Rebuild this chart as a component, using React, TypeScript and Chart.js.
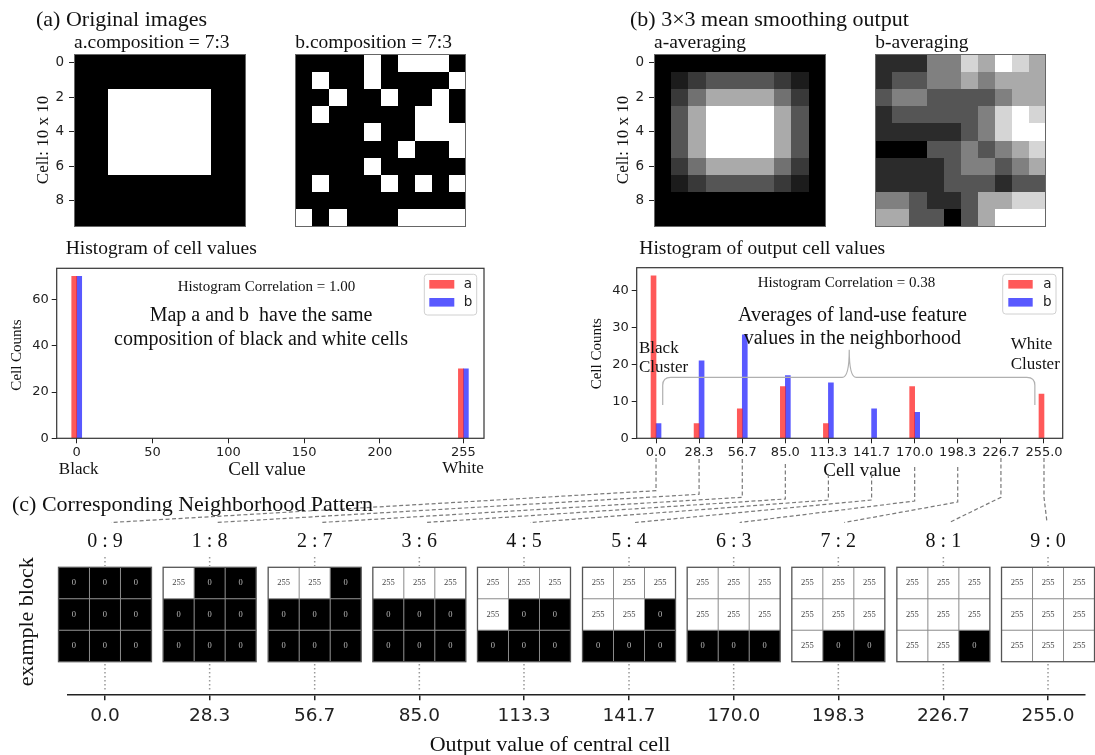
import React, { useEffect, useRef } from 'react';
import { Chart, registerables } from 'chart.js';

Chart.register(...registerables);

const W = 1095;
const H = 755;
const SERIF = '"Liberation Serif", "Times New Roman", serif';
const SANS = '"DejaVu Sans", "Noto Sans", sans-serif';
const RED = 'rgba(255,0,0,0.65)';
const BLUE = 'rgba(0,0,255,0.65)';

// ---------------- data ----------------
// (a) original 10x10 maps, 1 = white (255), 0 = black (0)
const IMG_A = [
  '0000000000',
  '0000000000',
  '0011111100',
  '0011111100',
  '0011111100',
  '0011111100',
  '0011111100',
  '0000000000',
  '0000000000',
  '0000000000',
];
const IMG_B = [
  '0000101110',
  '0100100001',
  '0010010010',
  '0100000110',
  '0000100111',
  '0000001001',
  '0000100000',
  '0100010101',
  '0000000000',
  '1010001111',
];
// (b) 3x3 mean smoothing output, in ninths of 255 (number of white cells in the window)
const AVG_A = [
  '0000000000',
  '0123333210',
  '0246666420',
  '0369999630',
  '0369999630',
  '0369999630',
  '0246666420',
  '0123333210',
  '0000000000',
  '0000000000',
];
const AVG_B = [
  '1113354654',
  '1223343444',
  '2332222344',
  '1222223565',
  '1111123566',
  '0002232345',
  '1111233234',
  '1111222122',
  '3321124455',
  '4422024666',
];
const IMG_TICKS = [0, 2, 4, 6, 8];

// histogram of original cell values
const HIST1_BINS = [0, 255];
const HIST1_A = [70, 30];
const HIST1_B = [70, 30];
const HIST1_XTICKS = [0, 50, 100, 150, 200, 255];
const HIST1_YTICKS = [0, 20, 40, 60];

// histogram of output cell values
const BINS = [0, 28.3, 56.7, 85.0, 113.3, 141.7, 170.0, 198.3, 226.7, 255.0];
const HIST2_A = [44, 4, 8, 14, 4, 0, 14, 0, 0, 12];
const HIST2_B = [4, 21, 28, 17, 15, 8, 7, 0, 0, 0];
const HIST2_YTICKS = [0, 10, 20, 30, 40];

// (c) neighborhood patterns
const RATIOS = ['0 : 9', '1 : 8', '2 : 7', '3 : 6', '4 : 5', '5 : 4', '6 : 3', '7 : 2', '8 : 1', '9 : 0'];
const PATTERNS = [
  '000000000',
  '100000000',
  '110000000',
  '111000000',
  '111100000',
  '111110000',
  '111111000',
  '111111100',
  '111111110',
  '111111111',
];

// ---------------- helpers ----------------
type TextItem = {
  t: string;
  x: number;
  y: number;
  size: number;
  font?: string;
  align?: CanvasTextAlign;
  rot?: number;
  color?: string;
};

function drawTexts(ctx: CanvasRenderingContext2D, items: TextItem[]) {
  for (const it of items) {
    ctx.save();
    ctx.font = `${it.size}px ${it.font || SERIF}`;
    ctx.fillStyle = it.color || '#111';
    ctx.textAlign = it.align || 'left';
    ctx.textBaseline = 'middle';
    ctx.translate(it.x, it.y);
    if (it.rot) ctx.rotate(it.rot);
    ctx.fillText(it.t, 0, 0);
    ctx.restore();
  }
}

const textPlugin = (items: TextItem[]) => ({
  id: 'texts',
  afterDraw(chart: any) {
    drawTexts(chart.ctx, items);
  },
});

function gridPoints(rows: string[]) {
  return rows.flatMap((row, r) => row.split('').map((ch, c) => ({ x: c, y: r, v: Number(ch) })));
}

const cellPlugin = {
  id: 'cells',
  beforeDatasetsDraw(chart: any) {
    const { ctx, chartArea, scales } = chart;
    const ds = chart.data.datasets[0];
    const pts = ds.data as { x: number; y: number; v: number }[];
    const vmax = Math.max(...pts.map((p) => p.v));
    const xs = scales.x;
    const ys = scales.y;
    ctx.save();
    for (const p of pts) {
      const x0 = Math.round(xs.getPixelForValue(p.x - 0.5));
      const x1 = Math.round(xs.getPixelForValue(p.x + 0.5));
      const ya = Math.round(ys.getPixelForValue(p.y - 0.5));
      const yb = Math.round(ys.getPixelForValue(p.y + 0.5));
      const g = Math.round((p.v / vmax) * 255);
      ctx.fillStyle = `rgb(${g},${g},${g})`;
      ctx.fillRect(x0, Math.min(ya, yb), x1 - x0, Math.abs(yb - ya));
    }
    ctx.strokeStyle = '#666';
    ctx.lineWidth = 1;
    ctx.strokeRect(
      Math.round(chartArea.left) + 0.5,
      Math.round(chartArea.top) + 0.5,
      Math.round(chartArea.right) - Math.round(chartArea.left) - 1,
      Math.round(chartArea.bottom) - Math.round(chartArea.top) - 1
    );
    ctx.restore();
  },
};

function heatChart(
  canvas: HTMLCanvasElement,
  rows: string[],
  area: [number, number, number, number],
  showY: boolean,
  texts: TextItem[]
) {
  const yW = 30;
  const [x0, y0, x1, y1] = area;
  const yScale: any = {
    type: 'linear',
    min: -0.5,
    max: 9.5,
    reverse: true,
    display: showY,
    afterBuildTicks: (s: any) => {
      s.ticks = IMG_TICKS.map((v) => ({ value: v }));
    },
    ticks: { font: { family: SANS, size: 13.5 }, color: '#222', padding: 5 },
    grid: { drawOnChartArea: false, drawTicks: true, tickLength: 5, color: '#222' },
    border: { display: false },
  };
  if (showY) {
    yScale.afterFit = (s: any) => {
      s.width = yW;
    };
  }
  return new Chart(canvas, {
    type: 'scatter',
    data: { datasets: [{ data: gridPoints(rows), pointRadius: 0, pointHoverRadius: 0 } as any] },
    options: {
      animation: false,
      responsive: false,
      events: [],
      layout: { padding: { left: showY ? x0 - yW : x0, top: y0, right: W - x1, bottom: H - y1 } },
      plugins: { legend: { display: false }, tooltip: { enabled: false } },
      scales: {
        x: { type: 'linear', min: -0.5, max: 9.5, display: false },
        y: yScale,
      },
    } as any,
    plugins: [cellPlugin, textPlugin(texts)],
  });
}

type LegendGeo = { box: [number, number, number, number]; px0: number; px1: number; lx: number; ys: [number, number] };

function histOverlay(texts: TextItem[], legend: LegendGeo, brace: boolean) {
  return {
    id: 'histOverlay',
    afterDraw(chart: any) {
      const { ctx, chartArea, scales } = chart;
      ctx.save();
      // frame
      ctx.strokeStyle = '#333';
      ctx.lineWidth = 1.2;
      ctx.strokeRect(chartArea.left, chartArea.top, chartArea.right - chartArea.left, chartArea.bottom - chartArea.top);
      // brace
      if (brace) {
        const xs = scales.x;
        const ys = scales.y;
        const xL = xs.getPixelForValue(4.4);
        const xM = xs.getPixelForValue(127);
        const xR = xs.getPixelForValue(249);
        const yEnd = ys.getPixelForValue(9);
        const yLine = ys.getPixelForValue(16.5);
        const yPeak = ys.getPixelForValue(24);
        ctx.strokeStyle = '#b0b0b0';
        ctx.lineWidth = 1.2;
        ctx.beginPath();
        ctx.moveTo(xL, yEnd);
        ctx.lineTo(xL, yLine + 8);
        ctx.quadraticCurveTo(xL, yLine, xL + 8, yLine);
        ctx.lineTo(xM - 7, yLine);
        ctx.quadraticCurveTo(xM, yLine, xM, yPeak);
        ctx.quadraticCurveTo(xM, yLine, xM + 7, yLine);
        ctx.lineTo(xR - 8, yLine);
        ctx.quadraticCurveTo(xR, yLine, xR, yLine + 8);
        ctx.lineTo(xR, yEnd);
        ctx.stroke();
      }
      // legend
      const [bx0, by0, bx1, by1] = legend.box;
      ctx.fillStyle = 'rgba(255,255,255,0.85)';
      ctx.strokeStyle = '#d0d0d0';
      ctx.lineWidth = 1;
      ctx.beginPath();
      (ctx as any).roundRect ? (ctx as any).roundRect(bx0, by0, bx1 - bx0, by1 - by0, 3) : ctx.rect(bx0, by0, bx1 - bx0, by1 - by0);
      ctx.fill();
      ctx.stroke();
      const dss = chart.data.datasets;
      dss.forEach((ds: any, i: number) => {
        const y = legend.ys[i];
        ctx.fillStyle = ds.backgroundColor;
        ctx.fillRect(legend.px0, y - 4.3, legend.px1 - legend.px0, 8.6);
        ctx.fillStyle = '#222';
        ctx.font = `13.5px ${SANS}`;
        ctx.textAlign = 'center';
        ctx.textBaseline = 'middle';
        ctx.fillText(ds.label, legend.lx, y);
      });
      ctx.restore();
      drawTexts(ctx, texts);
    },
  };
}

function histChart(
  canvas: HTMLCanvasElement,
  bins: number[],
  aVals: number[],
  bVals: number[],
  xRange: [number, number],
  yMax: number,
  xTicks: number[],
  yTicks: number[],
  fmt: (v: number) => string,
  area: [number, number, number, number],
  overlay: any
) {
  const yW = 40;
  const xH = 20;
  const [x0, y0, x1, y1] = area;
  return new Chart(canvas, {
    type: 'bar',
    data: {
      datasets: [
        { label: 'a', data: bins.map((b, i) => ({ x: b, y: aVals[i] })), backgroundColor: RED, borderWidth: 0, barThickness: 5 },
        { label: 'b', data: bins.map((b, i) => ({ x: b, y: bVals[i] })), backgroundColor: BLUE, borderWidth: 0, barThickness: 5 },
      ] as any,
    },
    options: {
      animation: false,
      responsive: false,
      events: [],
      layout: { padding: { left: x0 - yW, top: y0, right: W - x1, bottom: H - y1 - xH } },
      plugins: { legend: { display: false }, tooltip: { enabled: false } },
      scales: {
        x: {
          type: 'linear',
          min: xRange[0],
          max: xRange[1],
          offset: false,
          afterFit: (s: any) => {
            s.height = xH;
          },
          afterBuildTicks: (s: any) => {
            s.ticks = xTicks.map((v) => ({ value: v }));
          },
          ticks: {
            callback: (v: any) => fmt(Number(v)),
            font: { family: SANS, size: 13 },
            color: '#222',
            padding: 2,
            maxRotation: 0,
            autoSkip: false,
          },
          grid: { offset: false, drawOnChartArea: false, drawTicks: true, tickLength: 5, color: '#222' },
          border: { display: false },
        },
        y: {
          type: 'linear',
          min: 0,
          max: yMax,
          afterFit: (s: any) => {
            s.width = yW;
          },
          afterBuildTicks: (s: any) => {
            s.ticks = yTicks.map((v) => ({ value: v }));
          },
          ticks: { font: { family: SANS, size: 13 }, color: '#222', padding: 3 },
          grid: { drawOnChartArea: false, drawTicks: true, tickLength: 5, color: '#222' },
          border: { display: false },
        },
      },
    } as any,
    plugins: [overlay],
  });
}

function blocksPlugin(getHist: () => any) {
  return {
    id: 'blocks',
    afterDraw(chart: any) {
      const { ctx } = chart;
      const meta = chart.getDatasetMeta(0);
      const pts = chart.data.datasets[0].data as { x: number; pattern: string; label: string }[];
      const bw = 93;
      const top = 567.3;
      const bh = 94.4;
      const cw = bw / 3;
      const ch = bh / 3;
      ctx.save();
      pts.forEach((p, k) => {
        const cx = meta.data[k].x;
        const left = cx - bw / 2;
        // cells
        for (let i = 0; i < 9; i++) {
          const r = Math.floor(i / 3);
          const c = i % 3;
          const white = p.pattern[i] === '1';
          ctx.fillStyle = white ? '#ffffff' : '#000000';
          ctx.fillRect(left + c * cw, top + r * ch, cw, ch);
          ctx.fillStyle = white ? '#444' : '#bbb';
          ctx.font = `8.5px ${SERIF}`;
          ctx.textAlign = 'center';
          ctx.textBaseline = 'middle';
          ctx.fillText(white ? '255' : '0', left + c * cw + cw / 2, top + r * ch + ch / 2);
        }
        // inner grid
        ctx.strokeStyle = '#8a8a8a';
        ctx.lineWidth = 1;
        ctx.beginPath();
        for (let j = 1; j < 3; j++) {
          ctx.moveTo(left + j * cw, top);
          ctx.lineTo(left + j * cw, top + bh);
          ctx.moveTo(left, top + j * ch);
          ctx.lineTo(left + bw, top + j * ch);
        }
        ctx.stroke();
        ctx.strokeStyle = '#555';
        ctx.lineWidth = 1.3;
        ctx.strokeRect(left, top, bw, bh);
        // dotted guides
        ctx.save();
        ctx.setLineDash([1.5, 2.5]);
        ctx.strokeStyle = '#999';
        ctx.lineWidth = 1.5;
        ctx.beginPath();
        ctx.moveTo(cx, 557);
        ctx.lineTo(cx, 566);
        ctx.moveTo(cx, 664);
        ctx.lineTo(cx, 692);
        ctx.stroke();
        ctx.restore();
        // ratio label
        drawTexts(ctx, [{ t: p.label, x: cx, y: 541.7, size: 20, align: 'center' }]);
      });
      // connectors from histogram ticks to patterns
      const hist = getHist();
      if (hist) {
        const hx = hist.scales.x;
        const starts = [458, 459, 459, 464, 474, 474, 467, 467, 458, 458];
        const ends = [490.7, 494.3, 497.3, 499, 500, 500, 501, 502, 497.3, 497.3];
        ctx.setLineDash([4, 2.5]);
        ctx.strokeStyle = '#7a7a7a';
        ctx.lineWidth = 1.2;
        pts.forEach((p, k) => {
          const x0 = hx.getPixelForValue(p.x);
          const tx = meta.data[k].x + (k === pts.length - 1 ? -1 : 6);
          ctx.beginPath();
          ctx.moveTo(x0, starts[k]);
          ctx.lineTo(x0, ends[k]);
          ctx.lineTo(tx, 522.5);
          ctx.stroke();
        });
      }
      ctx.restore();
    },
  };
}

// ---------------- component ----------------
export default function App() {
  const refs = useRef<(HTMLCanvasElement | null)[]>([]);

  useEffect(() => {
    const c = refs.current as HTMLCanvasElement[];
    const charts: Chart[] = [];

    charts.push(
      heatChart(c[0], IMG_A, [74, 54.3, 245.7, 226.7], true, [
        { t: '(a) Original images', x: 36, y: 20, size: 22 },
        { t: 'a.composition = 7:3', x: 74, y: 43.3, size: 19.5 },
        { t: 'Cell: 10 x 10', x: 43.3, y: 140, size: 17, align: 'center', rot: -Math.PI / 2 },
      ])
    );
    charts.push(
      heatChart(c[1], IMG_B, [295.3, 54.3, 466, 226.7], false, [
        { t: 'b.composition = 7:3', x: 295.3, y: 43.3, size: 19.5 },
      ])
    );
    charts.push(
      heatChart(c[2], AVG_A, [654, 54.3, 825.7, 226.7], true, [
        { t: '(b) 3\u00d73 mean smoothing output', x: 630, y: 20, size: 22 },
        { t: 'a-averaging', x: 654, y: 42.7, size: 19.5 },
        { t: 'Cell: 10 x 10', x: 623.3, y: 140, size: 17, align: 'center', rot: -Math.PI / 2 },
      ])
    );
    charts.push(
      heatChart(c[3], AVG_B, [875.3, 54.3, 1046, 226.7], false, [
        { t: 'b-averaging', x: 875.3, y: 42.7, size: 19.5 },
      ])
    );

    charts.push(
      histChart(
        c[4],
        HIST1_BINS,
        HIST1_A,
        HIST1_B,
        [-13.2, 268.6],
        73.5,
        HIST1_XTICKS,
        HIST1_YTICKS,
        (v) => String(v),
        [56.7, 268.3, 484, 438.3],
        histOverlay(
          [
            { t: 'Histogram of cell values', x: 65.7, y: 249.3, size: 19.5 },
            { t: 'Histogram Correlation = 1.00', x: 266.5, y: 287.3, size: 15, align: 'center' },
            { t: 'Map a and b  have the same', x: 261, y: 316, size: 20, align: 'center' },
            { t: 'composition of black and white cells', x: 261, y: 339.3, size: 20, align: 'center' },
            { t: 'Cell Counts', x: 17, y: 355, size: 15, align: 'center', rot: -Math.PI / 2 },
            { t: 'Cell value', x: 267, y: 470, size: 19, align: 'center' },
            { t: 'Black', x: 78.7, y: 470, size: 17, align: 'center' },
            { t: 'White', x: 463, y: 469, size: 17, align: 'center' },
          ],
          { box: [424.3, 274.3, 476.7, 315], px0: 429.3, px1: 454.3, lx: 468, ys: [284.3, 302.3] },
          false
        )
      )
    );

    const hist2 = histChart(
      c[5],
      BINS,
      HIST2_A,
      HIST2_B,
      [-12.7, 267.3],
      46.2,
      BINS,
      HIST2_YTICKS,
      (v) => v.toFixed(1),
      [636.7, 267.7, 1062.7, 438.3],
      histOverlay(
        [
          { t: 'Histogram of output cell values', x: 639.3, y: 249, size: 19.5 },
          { t: 'Histogram Correlation = 0.38', x: 846.5, y: 282.7, size: 15, align: 'center' },
          { t: 'Averages of land-use feature', x: 852.5, y: 316, size: 20, align: 'center' },
          { t: 'values in the neighborhood', x: 852.3, y: 338.7, size: 20, align: 'center' },
          { t: 'Black', x: 639, y: 348.3, size: 17 },
          { t: 'Cluster', x: 639, y: 367.7, size: 17 },
          { t: 'White', x: 1010.7, y: 344.3, size: 17 },
          { t: 'Cluster', x: 1010.7, y: 365, size: 17 },
          { t: 'Cell Counts', x: 596.7, y: 353.7, size: 15, align: 'center', rot: -Math.PI / 2 },
          { t: 'Cell value', x: 862, y: 470.7, size: 19, align: 'center' },
        ],
        { box: [1002.7, 274.3, 1056, 314], px0: 1008.3, px1: 1032.7, lx: 1047.3, ys: [284.3, 302.3] },
        true
      )
    );
    charts.push(hist2);

    const xH = 40;
    charts.push(
      new Chart(c[6], {
        type: 'scatter',
        data: {
          datasets: [
            {
              data: BINS.map((b, k) => ({ x: b, y: 0, pattern: PATTERNS[k], label: RATIOS[k] })),
              pointRadius: 0,
              pointHoverRadius: 0,
            } as any,
          ],
        },
        options: {
          animation: false,
          responsive: false,
          events: [],
          layout: { padding: { left: 68, right: W - 1085, top: 560, bottom: H - 694.3 - xH } },
          plugins: { legend: { display: false }, tooltip: { enabled: false } },
          scales: {
            x: {
              type: 'linear',
              min: -10,
              max: 265,
              afterFit: (s: any) => {
                s.height = xH;
              },
              afterBuildTicks: (s: any) => {
                s.ticks = BINS.map((v) => ({ value: v }));
              },
              ticks: {
                callback: (v: any) => Number(v).toFixed(1),
                font: { family: SANS, size: 18.5 },
                color: '#222',
                padding: 5,
                maxRotation: 0,
                autoSkip: false,
              },
              grid: { drawOnChartArea: false, drawTicks: true, tickLength: 6, color: '#222', lineWidth: 1.5 },
              border: { display: true, color: '#222', width: 1.5 },
            },
            y: { type: 'linear', display: false, min: -1, max: 1 },
          },
        } as any,
        plugins: [
          blocksPlugin(() => hist2),
          textPlugin([
            { t: '(c) Corresponding Neighborhood Pattern', x: 12, y: 505, size: 22 },
            { t: 'example block', x: 27, y: 621.7, size: 22, align: 'center', rot: -Math.PI / 2 },
            { t: 'Output value of central cell', x: 550, y: 745, size: 22, align: 'center' },
          ]),
        ],
      })
    );

    return () => {
      charts.forEach((ch) => ch.destroy());
    };
  }, []);

  return (
    <div style={{ position: 'absolute', left: 0, top: 0, width: W, height: H, background: '#fff', overflow: 'hidden' }}>
      {Array.from({ length: 7 }).map((_, i) => (
        <canvas
          key={i}
          ref={(el) => {
            refs.current[i] = el;
          }}
          width={W}
          height={H}
          style={{ position: 'absolute', left: 0, top: 0, width: W, height: H }}
        />
      ))}
    </div>
  );
}
